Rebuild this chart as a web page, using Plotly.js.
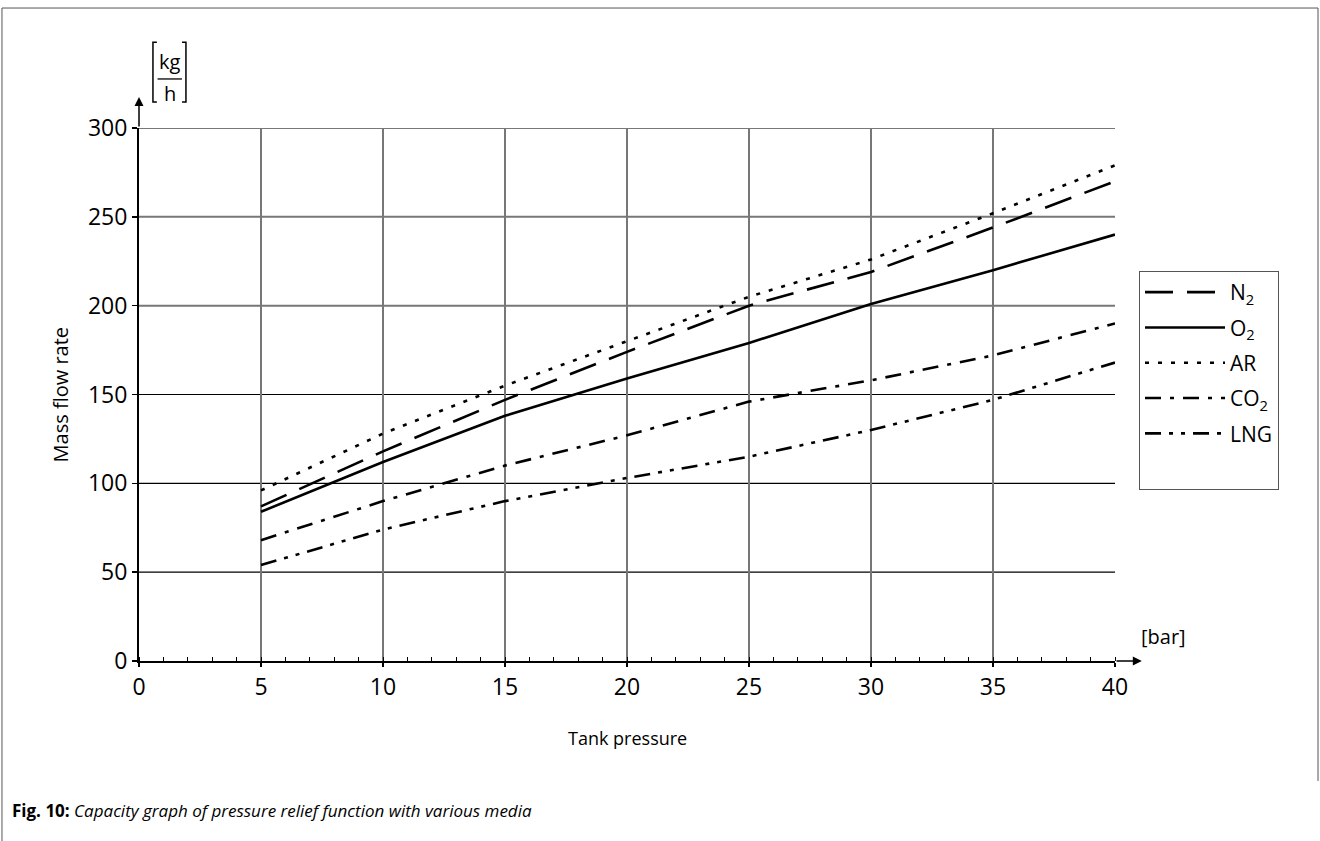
<!DOCTYPE html>
<html>
<head>
<meta charset="utf-8">
<script src="https://cdn.plot.ly/plotly-3.0.1.min.js"></script>
<style>html,body{margin:0;padding:0;background:#fff;}#chart{width:1320px;height:841px;}</style>
</head>
<body>
<div id="chart"></div>
<script>
// ---- data ----
const pressure = [5, 10, 15, 20, 25, 30, 35, 40];
const n2  = [87, 118, 147, 174, 200, 219, 244, 270];
const o2  = [84, 112, 138, 159, 179, 201, 220, 240];
const ar  = [96, 128, 155, 180, 205, 226, 252, 279];
const co2 = [68, 90, 110, 127, 146, 158, 172, 190];
const lng = [54, 74, 90, 103, 115, 130, 147, 168];
const seriesNames = ['N<sub>2</sub>', 'O<sub>2</sub>', 'AR', 'CO<sub>2</sub>', 'LNG'];
const xTicks = [0, 5, 10, 15, 20, 25, 30, 35, 40];
const yTicks = [0, 50, 100, 150, 200, 250, 300];
const yGridDark = [50, 100, 150];
const yGridGray = [200, 250, 300];

const FONT = 'Open Sans, Noto Sans, sans-serif';
const dashes = ['28px,14px', 'solid', '4px,9px', '16px,9px,4px,9px', '16px,8px,4px,8px,4px,8px'];
const values = [n2, o2, ar, co2, lng];

const traces = values.map((v, i) => ({
  x: pressure, y: v, name: seriesNames[i], type: 'scatter', mode: 'lines',
  legendgroup: 'g' + i,
  line: {color: '#000', width: 2.6, dash: dashes[i]}, cliponaxis: false
}));
// empty spacer entry that keeps the legend box as tall as in the reference
traces.push({x: [null], y: [null], name: ' ', type: 'scatter', mode: 'lines', legendgroup: 'spacer',
  line: {color: 'rgba(0,0,0,0)', width: 0}, hoverinfo: 'skip'});

const shapes = [];
yGridDark.forEach(v => shapes.push({type: 'line', xref: 'x', yref: 'y', x0: 0, x1: 40, y0: v, y1: v, line: {color: '#000', width: 1.2}, layer: 'below'}));
yGridGray.forEach(v => shapes.push({type: 'line', xref: 'x', yref: 'y', x0: 0, x1: 40, y0: v, y1: v, line: {color: '#777', width: 2}, layer: 'below'}));
// figure frame
shapes.push({type: 'line', xref: 'paper', yref: 'paper', x0: -0.1404, x1: 1.2080, y0: 1.2251, y1: 1.2251, line: {color: '#555', width: 1}});
shapes.push({type: 'line', xref: 'paper', yref: 'paper', x0: -0.1404, x1: -0.1404, y0: 1.2251, y1: -0.34, line: {color: '#555', width: 1}});
shapes.push({type: 'line', xref: 'paper', yref: 'paper', x0: 1.2080, x1: 1.2080, y0: 1.2251, y1: -0.225, line: {color: '#555', width: 1}});
// unit bracket [kg/h]
const bl = 0.0143, br = 0.0481, bt = 1.161, bb = 1.0488, s = 0.004;
shapes.push({type: 'path', xref: 'paper', yref: 'paper', path: `M${bl + s},${bt} L${bl},${bt} L${bl},${bb} L${bl + s},${bb}`, line: {color: '#000', width: 1.5}});
shapes.push({type: 'path', xref: 'paper', yref: 'paper', path: `M${br - s},${bt} L${br},${bt} L${br},${bb} L${br - s},${bb}`, line: {color: '#000', width: 1.5}});
shapes.push({type: 'line', xref: 'paper', yref: 'paper', x0: 0.019, x1: 0.044, y0: 1.092, y1: 1.092, line: {color: '#000', width: 1.3}});

const txt = (x, y, text, size, extra) => Object.assign({xref: 'paper', yref: 'paper', x: x, y: y, text: text,
  showarrow: false, xanchor: 'center', yanchor: 'middle', font: {family: FONT, size: size, color: '#000'}}, extra || {});

const annotations = [
  {xref: 'x', yref: 'y', x: 41.1, y: 0, axref: 'x', ayref: 'y', ax: 40, ay: 0, text: '', showarrow: true, arrowhead: 2, arrowsize: 1.2, arrowwidth: 1.5, arrowcolor: '#000'},
  {xref: 'x', yref: 'y', x: 0, y: 317.5, axref: 'x', ayref: 'y', ax: 0, ay: 300, text: '', showarrow: true, arrowhead: 2, arrowsize: 1.2, arrowwidth: 1.5, arrowcolor: '#000'},
  txt(-0.080, 0.5, 'Mass flow rate', 20, {textangle: -90}),
  txt(0.5, -0.1445, 'Tank pressure', 18),
  txt(1.050, 0.0469, '[bar]', 20),
  txt(0.0318, 1.124, 'kg', 20),
  txt(0.0318, 1.064, 'h', 20)
];

const layout = {
  width: 1320, height: 841,
  margin: {l: 139, r: 205, t: 128, b: 180},
  paper_bgcolor: '#fff', plot_bgcolor: '#fff',
  font: {family: FONT, color: '#000'},
  title: {
    text: '<b>Fig. 10:</b> <i>Capacity graph of pressure relief function with various media</i>',
    xref: 'container', yref: 'container', x: 12 / 1320, xanchor: 'left', y: 1 - 811 / 841, yanchor: 'middle',
    font: {family: FONT, size: 17, color: '#000'}
  },
  xaxis: {
    range: [0, 40], tickvals: xTicks, ticktext: xTicks.map(String),
    showgrid: true, gridcolor: '#777', gridwidth: 2, zeroline: false,
    showline: true, linecolor: '#000', linewidth: 2,
    ticks: 'outside', ticklen: 4, tickcolor: '#000', tickwidth: 1.5,
    minor: {dtick: 1, ticks: 'inside', ticklen: 4, tickcolor: '#000', tickwidth: 1, showgrid: false},
    tickfont: {family: FONT, size: 23, color: '#000'}, fixedrange: true
  },
  yaxis: {
    range: [0, 300], tickvals: yTicks, ticktext: yTicks.map(String),
    showgrid: false, zeroline: false,
    showline: true, linecolor: '#000', linewidth: 2,
    ticks: 'outside', ticklen: 5, tickcolor: '#000', tickwidth: 1.5,
    tickfont: {family: FONT, size: 23, color: '#000'}, fixedrange: true
  },
  showlegend: true,
  legend: {
    x: 1.0246, y: 0.7317, xanchor: 'left', yanchor: 'top',
    bordercolor: '#555', borderwidth: 1, bgcolor: '#fff',
    font: {family: FONT, size: 21, color: '#000'},
    itemwidth: 80, tracegroupgap: 5
  },
  shapes: shapes,
  annotations: annotations
};

Plotly.newPlot('chart', traces, layout, {staticPlot: true});
</script>
</body>
</html>
